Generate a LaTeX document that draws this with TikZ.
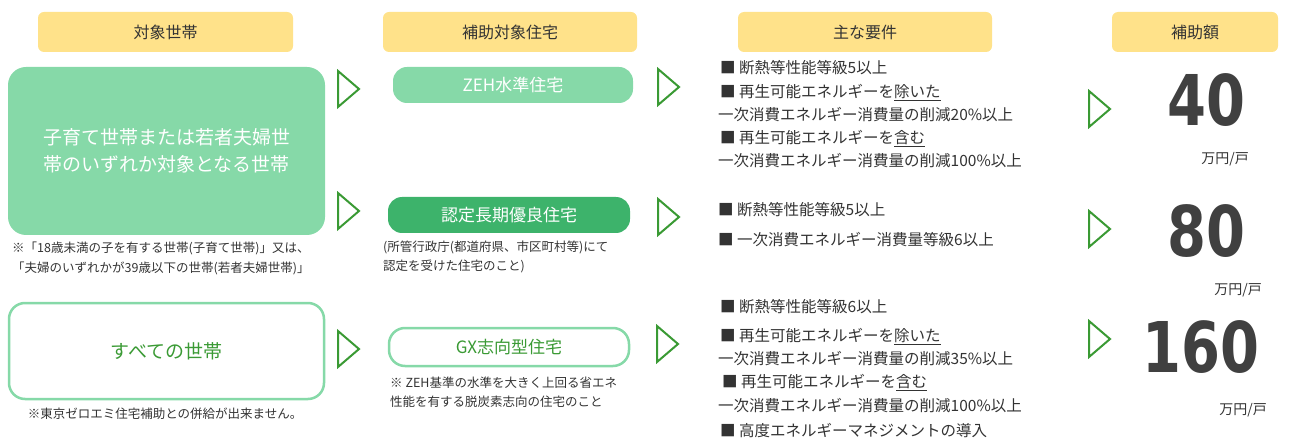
\documentclass[tikz,border=0pt]{standalone}
\usepackage{fontspec}
\newfontfamily\jp{Noto Sans CJK JP}
\newfontfamily\numf{DejaVu Sans}
\definecolor{yel}{HTML}{FFE28A}
\definecolor{mint}{HTML}{86D9A8}
\definecolor{dgreen}{HTML}{3DB36B}
\definecolor{tgreen}{HTML}{3A9A34}
\definecolor{txt}{HTML}{333333}
\definecolor{big}{HTML}{404040}
\begin{document}
\begin{tikzpicture}[x=1pt,y=-1pt,font=\jp,
 hdr/.style={fill=yel,rounded corners=6pt,minimum height=40pt,font=\jp\fontsize{16}{18}\selectfont,text=txt},
 note/.style={anchor=west,font=\jp\fontsize{12.5}{14}\selectfont,text=txt,inner sep=0},
 req/.style={anchor=west,font=\jp\fontsize{15.5}{17}\selectfont,text=txt,inner sep=0},
 num/.style={font=\numf\bfseries\fontsize{70}{70}\selectfont,text=big},
 unit/.style={font=\jp\fontsize{14}{16}\selectfont,text=txt},
 chev/.style={draw=tgreen,line width=2pt}]
\useasboundingbox (0,0) rectangle (1292,446);
% headers
\node[hdr,minimum width=255pt] (h1) at (165.5,32) {対象世帯};
\node[hdr,minimum width=254pt] (h2) at (510,32) {補助対象住宅};
\node[hdr,minimum width=254pt] (h3) at (865,32) {主な要件};
\node[hdr,minimum width=166pt] (h4) at (1195,32) {補助額};
% left boxes
\node[fill=mint,rounded corners=18pt,minimum width=317pt,minimum height=168pt,text=white,align=center,font=\jp\fontsize{19}{27}\selectfont] (b1) at (166.5,151) {子育て世帯または若者夫婦世\\帯のいずれか対象となる世帯};
\node[draw=mint,line width=2.5pt,fill=white,rounded corners=16pt,minimum width=315pt,minimum height=96pt,text=tgreen,font=\jp\fontsize{19}{22}\selectfont] (b2) at (166.5,351) {すべての世帯};
\node[note] (n1) at (12,248) {※「18歳未満の子を有する世帯(子育て世帯)」又は、};
\node[note] (n2) at (12,268) {「夫婦のいずれかが39歳以下の世帯(若者夫婦世帯)」};
\node[note,anchor=center] (n3) at (165,414) {※東京ゼロエミ住宅補助との併給が出来ません。};
% column 2
\node[fill=mint,rounded corners=14pt,minimum width=240pt,minimum height=36pt,text=white,font=\jp\fontsize{17}{20}\selectfont] (z1) at (513,85) {ZEH水準住宅};
\node[fill=dgreen,rounded corners=14pt,minimum width=242pt,minimum height=36pt,text=white,font=\jp\fontsize{17}{20}\selectfont] (z2) at (509,215) {認定長期優良住宅};
\node[draw=mint,line width=2.5pt,fill=white,rounded corners=16pt,minimum width=240pt,minimum height=38pt,text=tgreen,font=\jp\fontsize{17}{20}\selectfont] (z3) at (509,347) {GX志向型住宅};
\node[note] (n4) at (383,247) {(所管行政庁(都道府県、市区町村等)にて};
\node[note] (n5) at (383,266) {認定を受けた住宅のこと)};
\node[note] (n6) at (390,383) {※ ZEH基準の水準を大きく上回る省エネ};
\node[note] (n7) at (390,402) {性能を有する脱炭素志向の住宅のこと};
% chevrons
\foreach \n/\x/\y in {c1/338/89,c2/338/211,c3/338/349,c4/658/87,c5/658/217,c6/657/344,c7/1089/109,c8/1089/229,c9/1089/339}{
 \coordinate (\n) at (\x,\y);
 \draw[chev] ([shift={(0,-18)}]\n) -- ([shift={(21,0)}]\n) -- ([shift={(0,18)}]\n) -- cycle;}
% requirements
\node[req] (r1) at (720,68) {■ 断熱等性能等級5以上};
\node[req] (r2) at (720,93) {■ 再生可能エネルギーを\underline{除いた}};
\node[req] (r3) at (718,115) {一次消費エネルギー消費量の削減20\%以上};
\node[req] (r4) at (720,139) {■ 再生可能エネルギーを\underline{含む}};
\node[req] (r5) at (718,161) {一次消費エネルギー消費量の削減100\%以上};
\node[req] (r6) at (718,210) {■ 断熱等性能等級5以上};
\node[req] (r7) at (718,240) {■ 一次消費エネルギー消費量等級6以上};
\node[req] (r8) at (720,307) {■ 断熱等性能等級6以上};
\node[req] (r9) at (720,337) {■ 再生可能エネルギーを\underline{除いた}};
\node[req] (r10) at (718,359) {一次消費エネルギー消費量の削減35\%以上};
\node[req] (r11) at (722,383) {■ 再生可能エネルギーを\underline{含む}};
\node[req] (r12) at (718,406) {一次消費エネルギー消費量の削減100\%以上};
\node[req] (r13) at (720,431) {■ 高度エネルギーマネジメントの導入};
% amounts
\node[num,xscale=0.8] (a1) at (1206,100) {40};
\node[num,xscale=0.8] (a2) at (1206,231) {80};
\node[num,xscale=0.8] (a3) at (1201,347) {160};
\node[unit] (u1) at (1225,159) {万円/戸};
\node[unit] (u2) at (1238,290) {万円/戸};
\node[unit] (u3) at (1243,410) {万円/戸};
\end{tikzpicture}
\end{document}
